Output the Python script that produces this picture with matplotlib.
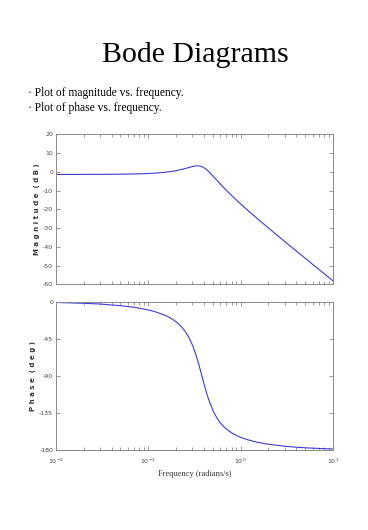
"""
Bode diagram slide: magnitude and phase vs. frequency.
Values read off the reference picture.
"""

import matplotlib
matplotlib.use("Agg")
import matplotlib.pyplot as plt
from matplotlib.ticker import LogLocator, NullFormatter, FixedLocator

plt.rcParams["axes.unicode_minus"] = False

# frequency points (rad/s) and the curve values read at them
FREQ = [0.01, 0.02, 0.03, 0.05, 0.07, 0.1, 0.12, 0.15, 0.175, 0.2, 0.225, 0.25,
        0.275, 0.3, 0.325, 0.35, 0.375, 0.4, 0.425, 0.45, 0.5, 0.55, 0.6, 0.65,
        0.7, 0.8, 0.9, 1.0, 1.2, 1.5, 2, 3, 4, 5, 7, 10]
MAG_DB = [-1.4, -1.38, -1.36, -1.28, -1.16, -0.91, -0.69, -0.28, 0.14, 0.61, 1.15, 1.72,
          2.28, 2.79, 3.12, 3.17, 2.86, 2.19, 1.25, 0.14, -2.19, -4.42, -6.43, -8.24,
          -9.87, -12.7, -15.09, -17.17, -20.66, -24.8, -29.99, -37.18, -42.23, -46.13, -51.99, -58.2]
PHASE_DEG = [-0.9, -1.9, -2.8, -4.8, -6.7, -10.0, -12.3, -16.2, -19.9, -24.3, -29.5, -35.7,
             -43.3, -52.4, -63.1, -75.1, -87.5, -99.4, -109.9, -118.7, -131.9, -140.7, -146.8, -151.2,
             -154.5, -159.2, -162.3, -164.6, -167.7, -170.5, -173.0, -175.4, -176.6, -177.3, -178.1, -178.7]

MAG_TICKS = [20, 10, 0, -10, -20, -30, -40, -50, -60]
PHASE_TICKS = [0, -45, -90, -135, -180]

TITLE = "Bode Diagrams"
BULLETS = ["\u00b7 Plot of magnitude vs. frequency.", "\u00b7 Plot of phase vs. frequency."]

LINE_COLOR = "#3c3cd8"
SPINE_COLOR = "#8a8a8a"
SERIF = "Liberation Serif"


def style_axes(ax, yticks, ylabel):
    ax.set_xscale("log")
    ax.set_xlim(0.01, 10)
    ax.set_ylim(min(yticks), max(yticks))
    ax.yaxis.set_major_locator(FixedLocator(yticks))
    ax.xaxis.set_major_locator(LogLocator(base=10, numticks=10))
    ax.xaxis.set_minor_locator(LogLocator(base=10, subs=range(2, 10), numticks=10))
    ax.xaxis.set_minor_formatter(NullFormatter())
    ax.tick_params(which="both", direction="in", top=True, right=True,
                   colors=SPINE_COLOR, labelcolor="#444444", labelsize=4.5, width=0.6, pad=2)
    ax.tick_params(axis="x", pad=5)
    ax.tick_params(which="major", length=3)
    ax.tick_params(which="minor", length=2)
    for sp in ax.spines.values():
        sp.set_color(SPINE_COLOR)
        sp.set_linewidth(0.7)
    ax.set_ylabel(ylabel, fontsize=5, fontweight="bold", color="#333333", labelpad=2)


fig = plt.figure(figsize=(3.68, 5.30), dpi=100)

fig.text(0.53, 0.896, TITLE, ha="center", va="center", fontsize=21.5, family=SERIF)
fig.text(0.075, 0.825, BULLETS[0], ha="left", va="center", fontsize=8.3, family=SERIF)
fig.text(0.075, 0.797, BULLETS[1], ha="left", va="center", fontsize=8.3, family=SERIF)

ax_mag = fig.add_axes([0.152, 0.4636, 0.753, 0.283])
ax_mag.plot(FREQ, MAG_DB, color=LINE_COLOR, linewidth=0.8)
style_axes(ax_mag, MAG_TICKS, "M a g n i t u d e  ( d B )")
ax_mag.set_xticklabels([])

ax_ph = fig.add_axes([0.152, 0.1509, 0.753, 0.2798])
ax_ph.plot(FREQ, PHASE_DEG, color=LINE_COLOR, linewidth=0.8)
style_axes(ax_ph, PHASE_TICKS, "P h a s e  ( d e g )")
ax_ph.set_xlabel("Frequency (radians/s)", fontsize=6, family=SERIF, color="#333333", labelpad=3)

fig.savefig("out.png", dpi=100)
